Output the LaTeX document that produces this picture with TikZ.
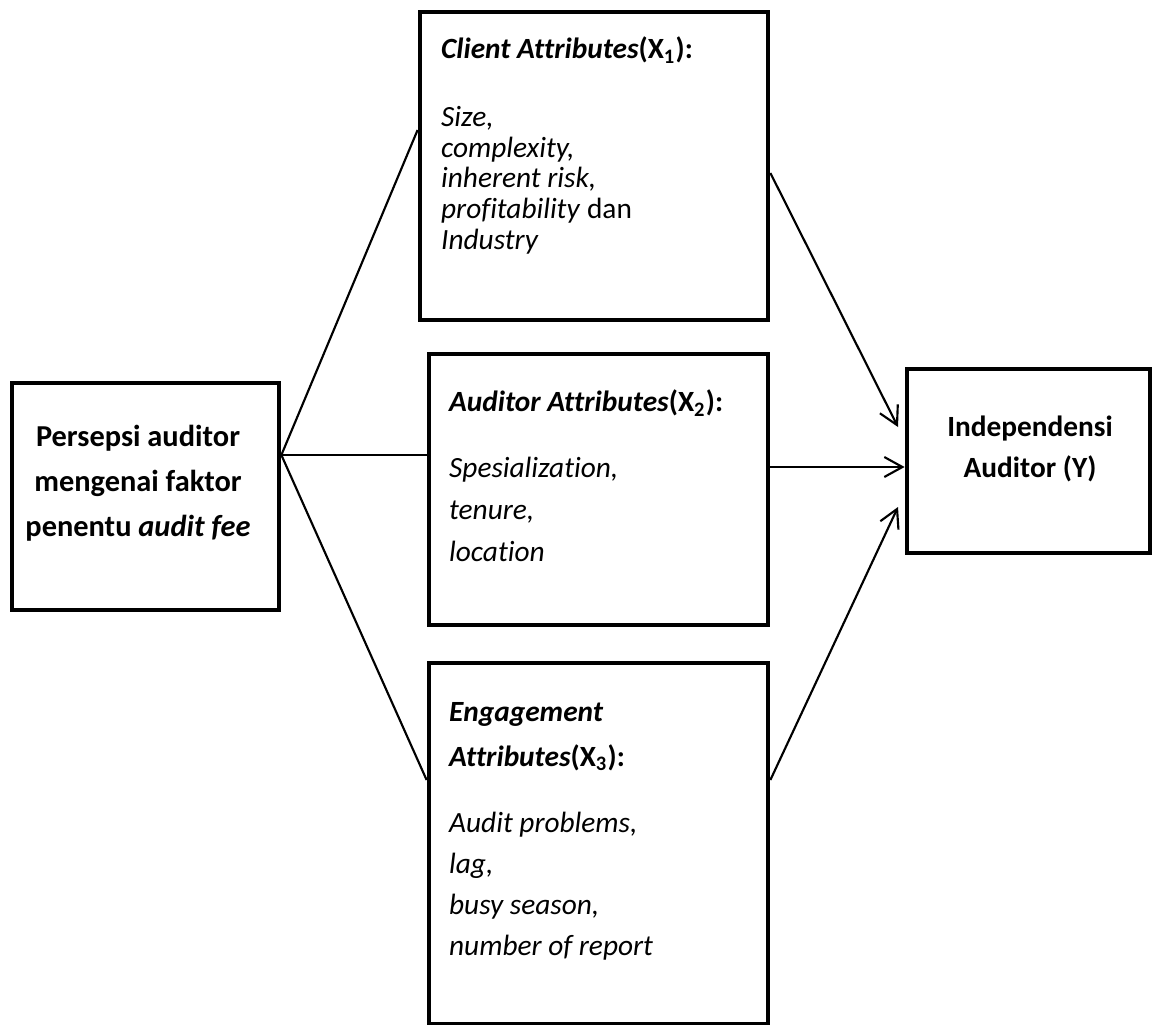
\documentclass[tikz,border=0pt]{standalone}
\usepackage{fontspec}
\setmainfont{Carlito}[Ligatures=NoCommon]
\usetikzlibrary{arrows.meta,positioning}
\newcommand\tightlines{\lineskiplimit=-10pt\relax}

\begin{document}
\begin{tikzpicture}[x=0.375pt,y=-0.375pt,font=\fontsize{11}{14}\selectfont,
  box/.style={draw,line width=1.8pt,inner sep=0pt},
  txt/.style={align=left,inner sep=0pt,anchor=north west},
  link/.style={line width=0.8pt},
  arr/.style={line width=0.8pt,-{Straight Barb[length=6.8pt,width=7.5pt]}}]
\useasboundingbox (0,0) rectangle (1152,1025);
% boxes
\node[box,minimum width=100.1pt,minimum height=85.1pt] (persepsi) at (145.5,496.5) {};
\node[box,minimum width=130.5pt,minimum height=115.5pt] (client) at (594,166) {};
\node[box,minimum width=127.1pt,minimum height=101.6pt] (auditor) at (598.5,489.5) {};
\node[box,minimum width=127.1pt,minimum height=135.4pt] (engage) at (598.5,843.5) {};
\node[box,minimum width=91.1pt,minimum height=69pt] (indep) at (1028.5,461) {};
% texts
\node[align=center,inner sep=0pt,font=\fontsize{11.4}{16.9}\selectfont\bfseries] (persepsitxt) at (138,483)
  {Persepsi auditor\\ mengenai faktor\\ penentu \textit{audit fee}};
\node[align=center,inner sep=0pt,font=\fontsize{11}{15.4}\selectfont\bfseries] (indeptxt) at (1030,449)
  {Independensi\\ Auditor (Y)};
\node[txt,font=\fontsize{11}{11.6}\selectfont\tightlines] (clienttxt) at ([shift={(23,27)}]client.north west)
  {\textbf{\textit{Client Attributes}(X\textsubscript{1}):}\\[13.6pt]
   \textit{Size,}\\ \textit{complexity,}\\ \textit{inherent risk,}\\ \textit{profitability} dan\\ \textit{Industry}};
\node[txt,font=\fontsize{11}{15.8}\selectfont] (auditortxt) at ([shift={(22,38)}]auditor.north west)
  {\textbf{\textit{Auditor Attributes}(X\textsubscript{2}):}\\[8.6pt]
   \textit{Spesialization,}\\ \textit{tenure,}\\ \textit{location}};
\node[txt,font=\fontsize{11}{15.4}\selectfont] (engagetxt) at ([shift={(22,41)}]engage.north west)
  {\textbf{\textit{Engagement}}\\[1.5pt] \textbf{\textit{Attributes}(X\textsubscript{3}):}\\[9.3pt]
   \textit{Audit problems,}\\ \textit{lag,}\\ \textit{busy season,}\\ \textit{number of report}};
% connectors
\coordinate (tipa) at (898,427);
\coordinate (tipc) at (898,507);
\draw[link] (persepsi.east |- 0,455) -- (client.west |- 0,130);
\draw[link] (persepsi.east |- 0,455) -- (auditor.west |- 0,455);
\draw[link] (persepsi.east |- 0,455) -- (engage.west |- 0,780);
\draw[arr] (client.east |- 0,173) -- (tipa);
\draw[arr] (auditor.east |- 0,467) -- (indep.west |- 0,467);
\draw[arr] (engage.east |- 0,780) -- (tipc);
\end{tikzpicture}
\end{document}
